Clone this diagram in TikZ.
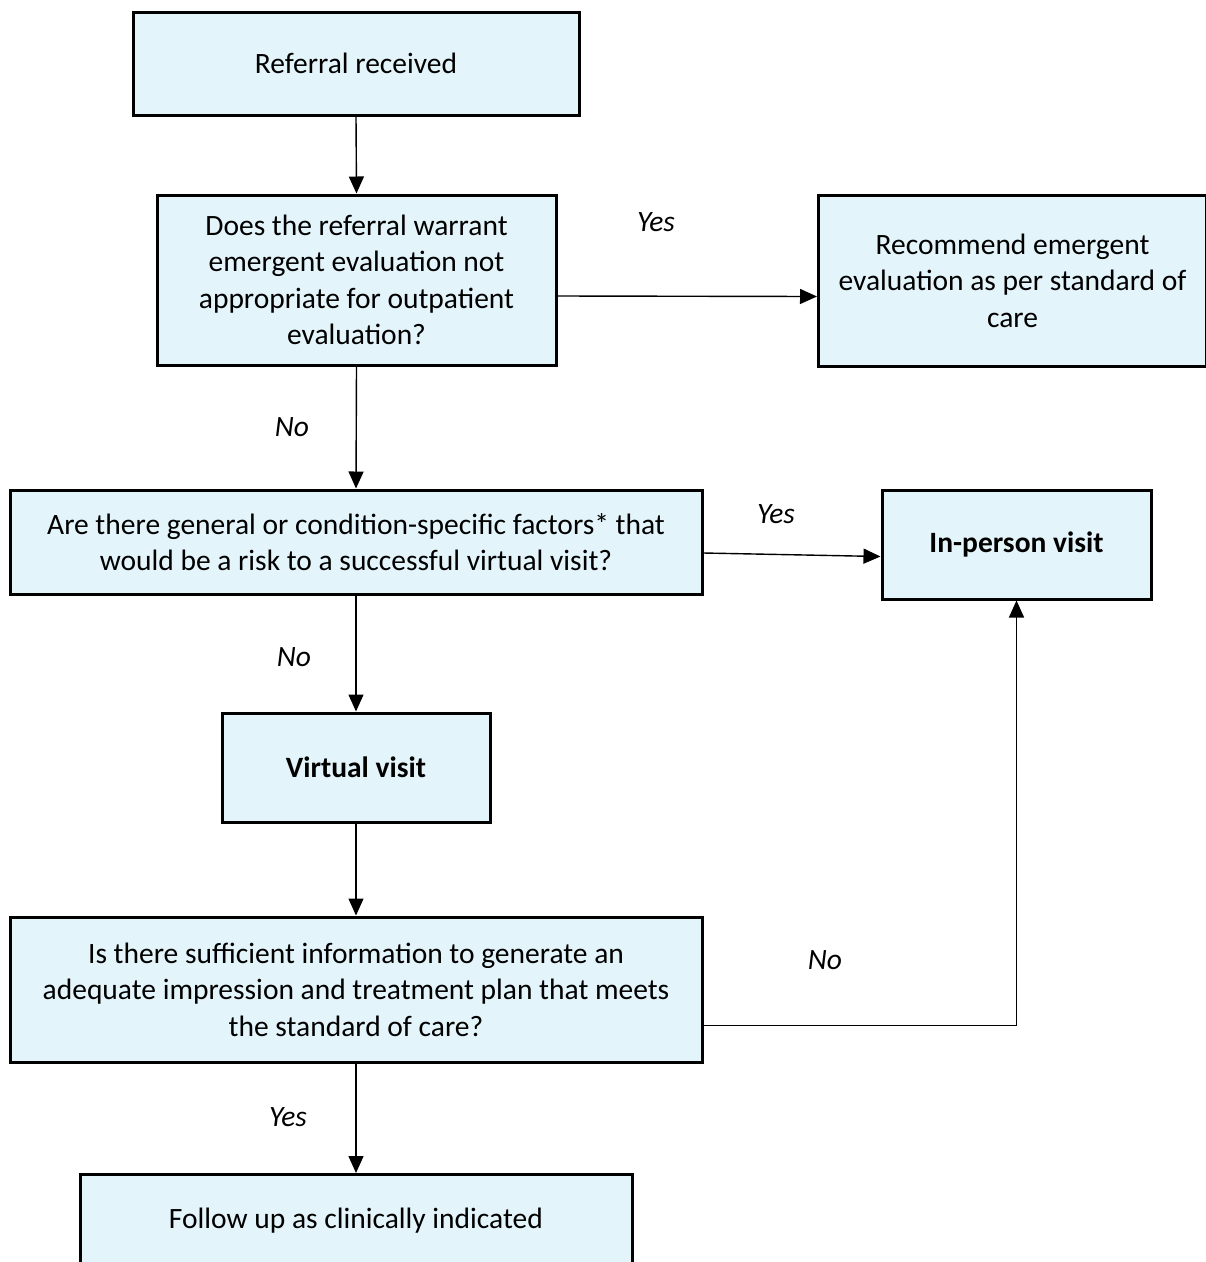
\documentclass[tikz,border=0pt]{standalone}
\usepackage{fontspec}
\setmainfont{Carlito}
\usetikzlibrary{arrows.meta}
\definecolor{boxfill}{HTML}{E3F4FA}
\tikzset{
  fbox/.style={draw=black,line width=3pt,fill=boxfill,inner sep=0pt,align=center,
    font=\fontsize{29.5}{36.5}\selectfont},
  arr/.style={line width=1.4pt,-{Triangle[length=17pt,width=15pt]}},
  lbl/.style={font=\fontsize{29.5}{30}\selectfont\itshape}
}
\begin{document}
\begin{tikzpicture}[x=1pt,y=-1pt]
\useasboundingbox (0,0) rectangle (1206,1262);
\clip (0,0) rectangle (1206,1262);
% boxes
\node[fbox,minimum width=446pt,minimum height=103pt] (r) at (356,63.5) {Referral received};
\node[fbox,minimum width=399pt,minimum height=170pt] (q1) at (356.5,280) {Does the referral warrant\\emergent evaluation not\\appropriate for outpatient\\evaluation?};
\node[fbox,minimum width=388pt,minimum height=171pt] (em) at (1012.5,280.5) {Recommend emergent\\evaluation as per standard of\\care};
\node[fbox,minimum width=692pt,minimum height=104pt] (q2) at (356,542) {Are there general or condition-specific factors* that\\would be a risk to a successful virtual visit?};
\node[fbox,minimum width=269pt,minimum height=109pt,font=\fontsize{29.5}{36.5}\selectfont\bfseries] (ip) at (1016.5,544.5) {In-person visit};
\node[fbox,minimum width=268pt,minimum height=109pt,font=\fontsize{29.5}{36.5}\selectfont\bfseries] (vv) at (356,767.5) {Virtual visit};
\node[fbox,minimum width=692pt,minimum height=145pt] (q3) at (356,989.5) {Is there sufficient information to generate an\\adequate impression and treatment plan that meets\\the standard of care?};
\node[fbox,minimum width=552pt,minimum height=140pt,anchor=north] (fu) at (356,1173) {};
\node[font=\fontsize{29.5}{36.5}\selectfont] (fut) at (356,1221) {Follow up as clinically indicated};
% connectors
\draw[arr] (r.south) -- (q1.north);
\draw[arr] ([yshift=-16pt]q1.east) -- ([yshift=-16pt]em.west);
\draw[arr] (q1.south) -- (q2.north);
\draw[arr] ([yshift=-11pt]q2.east) -- ([yshift=-12pt]ip.west);
\draw[arr] (q2.south) -- (vv.north);
\draw[arr] (vv.south) -- (q3.north);
\draw[arr] ([yshift=-36pt]q3.east) -| (ip.south);
\draw[arr] (q3.south) -- (fu.north);
% labels
\node[lbl] (l1) at (656,222) {Yes};
\node[lbl] (l2) at (292,427) {No};
\node[lbl] (l3) at (776,514) {Yes};
\node[lbl] (l4) at (294,657) {No};
\node[lbl] (l5) at (825,960) {No};
\node[lbl] (l6) at (288,1117) {Yes};
\end{tikzpicture}
\end{document}
